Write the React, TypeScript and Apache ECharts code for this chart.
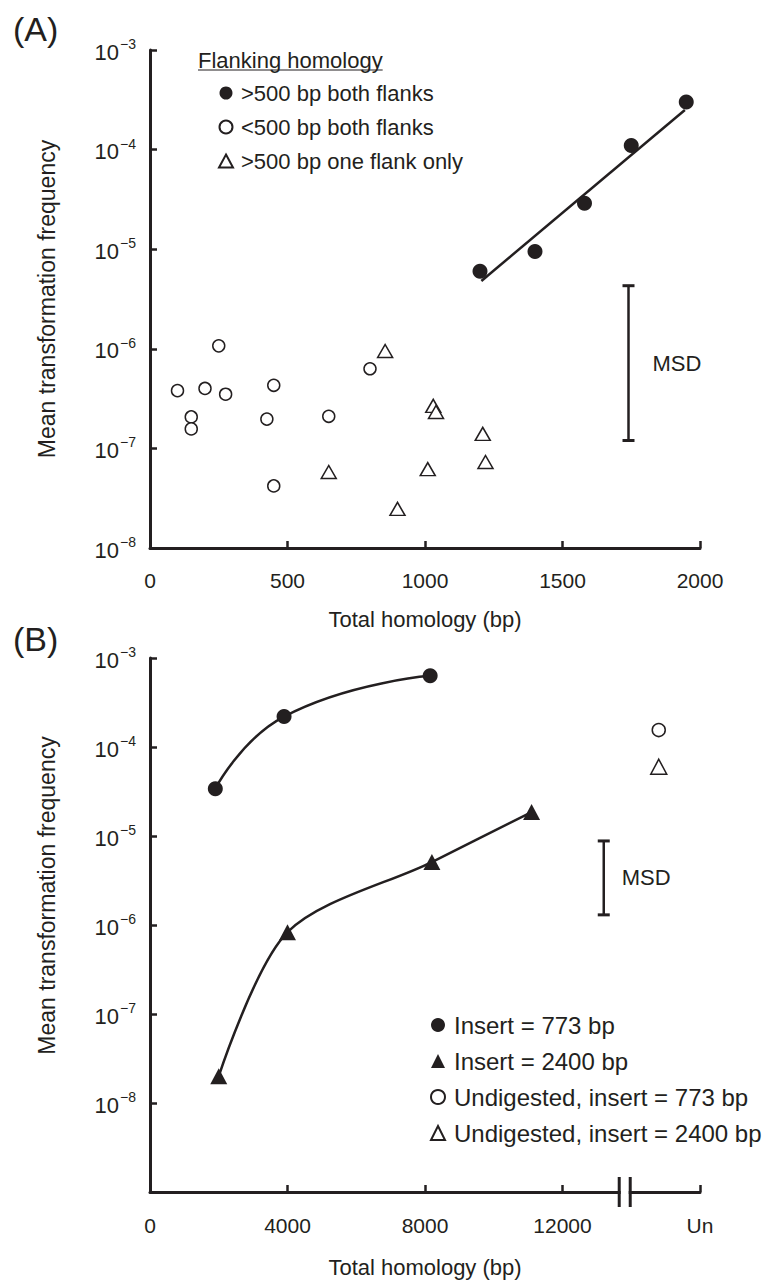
import React, { useEffect, useRef } from "react";
import * as echarts from "echarts";

const FONT = '"Liberation Sans", Arial, Helvetica, sans-serif';
const INK = "#231f20";

// ---------- Panel A data ----------
const A_X_MIN = 0;
const A_X_MAX = 2000;
const A_X_STEP = 500;
const A_Y_MIN = 1e-8;
const A_Y_MAX = 1e-3;

const A_FILLED_NAME = ">500 bp both flanks";
const A_FILLED_X = [1200, 1400, 1580, 1750, 1950];
const A_FILLED_Y = [6.0e-6, 9.5e-6, 2.9e-5, 1.1e-4, 3.0e-4];

const A_OPEN_NAME = "<500 bp both flanks";
const A_OPEN_X = [100, 150, 150, 200, 250, 275, 425, 450, 450, 650, 800];
const A_OPEN_Y = [3.8e-7, 2.07e-7, 1.57e-7, 4.0e-7, 1.07e-6, 3.5e-7, 1.97e-7, 4.3e-7, 4.2e-8, 2.1e-7, 6.3e-7];

const A_TRI_NAME = ">500 bp one flank only";
const A_TRI_X = [650, 855, 900, 1010, 1030, 1040, 1210, 1220];
const A_TRI_Y = [5.8e-8, 9.5e-7, 2.47e-8, 6.2e-8, 2.67e-7, 2.32e-7, 1.4e-7, 7.3e-8];

const A_TREND_X = [1205, 1945];
const A_TREND_Y = [4.8e-6, 2.5e-4];

const A_MSD_X = [1740, 1740];
const A_MSD_Y = [4.3e-6, 1.2e-7];

const A_LEGEND_TITLE = "Flanking homology";

// ---------- Panel B data ----------
const B_X_MIN = 0;
const B_X_MAX = 16000;
const B_X_STEP = 4000;
const B_X_UN_LABEL = "Un";
const B_Y_MIN = 1e-9;
const B_Y_MAX = 1e-3;

const B_773_NAME = "Insert = 773 bp";
const B_773_X = [1900, 3900, 8150];
const B_773_Y = [3.4e-5, 2.2e-4, 6.3e-4];

const B_2400_NAME = "Insert = 2400 bp";
const B_2400_X = [2000, 4000, 8200, 11100];
const B_2400_Y = [2.0e-8, 8.3e-7, 5.1e-6, 1.86e-5];

const B_UN773_NAME = "Undigested, insert = 773 bp";
const B_UN773_X = [14800];
const B_UN773_Y = [1.55e-4];

const B_UN2400_NAME = "Undigested, insert = 2400 bp";
const B_UN2400_X = [14800];
const B_UN2400_Y = [6.0e-5];

const B_MSD_X = [13200, 13200];
const B_MSD_Y = [8.8e-6, 1.3e-6];

const B_BREAK_X = [13650, 13970];

const X_NAME = "Total homology (bp)";
const Y_NAME = "Mean transformation frequency";

const zip = (xs: number[], ys: number[]) => xs.map((x, i) => [x, ys[i]]);

const powLabel = (hideBelow: number) => (v: number) => {
  const e = Math.round(Math.log10(v));
  if (e <= hideBelow) return "";
  return `{b|10}{s|\u2212${-e}}`;
};

const richPow = {
  b: { fontSize: 22, fontFamily: FONT, color: INK, lineHeight: 26, verticalAlign: "bottom" },
  s: { fontSize: 14, fontFamily: FONT, color: INK, lineHeight: 26, verticalAlign: "top", padding: [0, 0, 0, 1] },
};

const axisLine = { show: true, onZero: false, lineStyle: { color: INK, width: 3 } };
const axisTick = { show: true, inside: true, length: 7, lineStyle: { color: INK, width: 2.5 } };

const openItem = { color: "#ffffff", borderColor: INK, borderWidth: 1.5, opacity: 1 };
const solidItem = { color: INK, opacity: 1 };

export default function App() {
  const ref = useRef<HTMLDivElement>(null);

  useEffect(() => {
    if (!ref.current) return;
    const chart = echarts.init(ref.current, null, { renderer: "svg" });

    const option: any = {
      animation: false,
      backgroundColor: "#ffffff",
      textStyle: { fontFamily: FONT, color: INK },
      grid: [
        { left: 150, top: 50, width: 550, height: 498 },
        { left: 150, top: 658, width: 550, height: 534 },
      ],
      xAxis: [
        {
          type: "value",
          gridIndex: 0,
          min: A_X_MIN,
          max: A_X_MAX,
          interval: A_X_STEP,
          axisLine,
          axisTick,
          splitLine: { show: false },
          axisLabel: {
            margin: 22,
            fontSize: 21,
            color: INK,
            fontFamily: FONT,
            formatter: (v: number) => String(v),
          },
          name: X_NAME,
          nameLocation: "middle",
          nameGap: 60,
          nameTextStyle: { fontSize: 22, color: INK, fontFamily: FONT },
        },
        {
          type: "value",
          gridIndex: 1,
          min: B_X_MIN,
          max: B_X_MAX,
          interval: B_X_STEP,
          axisLine,
          axisTick,
          splitLine: { show: false },
          axisLabel: {
            margin: 23,
            fontSize: 21,
            color: INK,
            fontFamily: FONT,
            formatter: (v: number) => (v === B_X_MAX ? B_X_UN_LABEL : String(v)),
          },
          name: X_NAME,
          nameLocation: "middle",
          nameGap: 64,
          nameTextStyle: { fontSize: 22, color: INK, fontFamily: FONT },
        },
      ],
      yAxis: [
        {
          type: "log",
          logBase: 10,
          gridIndex: 0,
          min: A_Y_MIN,
          max: A_Y_MAX,
          axisLine,
          axisTick,
          splitLine: { show: false },
          minorTick: { show: false },
          axisLabel: { margin: 14, formatter: powLabel(-100), rich: richPow },
          name: Y_NAME,
          nameLocation: "middle",
          nameGap: 92,
          nameTextStyle: { fontSize: 23, color: INK, fontFamily: FONT },
        },
        {
          type: "log",
          logBase: 10,
          gridIndex: 1,
          min: B_Y_MIN,
          max: B_Y_MAX,
          axisLine,
          axisTick,
          splitLine: { show: false },
          minorTick: { show: false },
          axisLabel: { margin: 14, formatter: powLabel(-9), rich: richPow },
        },
      ],
      legend: [
        {
          data: [
            { name: A_FILLED_NAME, icon: "circle" },
            { name: A_OPEN_NAME, icon: "circle" },
            { name: A_TRI_NAME, icon: "triangle" },
          ],
          orient: "vertical",
          left: 218,
          top: 81,
          padding: 0,
          itemWidth: 14,
          itemHeight: 13,
          itemGap: 10,
          selectedMode: false,
          textStyle: { fontSize: 22, lineHeight: 24, color: INK, fontFamily: FONT, padding: [0, 0, 0, 3] },
        },
        {
          data: [
            { name: B_773_NAME, icon: "circle" },
            { name: B_2400_NAME, icon: "triangle" },
            { name: B_UN773_NAME, icon: "circle" },
            { name: B_UN2400_NAME, icon: "triangle" },
          ],
          orient: "vertical",
          left: 430,
          top: 1012,
          padding: 0,
          itemWidth: 14,
          itemHeight: 14,
          itemGap: 10,
          selectedMode: false,
          textStyle: { fontSize: 24, lineHeight: 26, color: INK, fontFamily: FONT, padding: [0, 0, 0, 4] },
        },
      ],
      series: [
        {
          name: "trendA",
          type: "line",
          xAxisIndex: 0,
          yAxisIndex: 0,
          data: zip(A_TREND_X, A_TREND_Y),
          showSymbol: false,
          symbol: "none",
          lineStyle: { color: INK, width: 2.5 },
          silent: true,
          z: 2,
        },
        {
          name: "msdA",
          type: "line",
          xAxisIndex: 0,
          yAxisIndex: 0,
          data: zip(A_MSD_X, A_MSD_Y),
          symbol: "rect",
          symbolSize: [12, 3],
          itemStyle: solidItem,
          lineStyle: { color: INK, width: 2.5 },
          silent: true,
        },
        {
          name: A_FILLED_NAME,
          type: "scatter",
          xAxisIndex: 0,
          yAxisIndex: 0,
          data: zip(A_FILLED_X, A_FILLED_Y),
          symbol: "circle",
          symbolSize: 15,
          itemStyle: solidItem,
          z: 5,
        },
        {
          name: A_OPEN_NAME,
          type: "scatter",
          xAxisIndex: 0,
          yAxisIndex: 0,
          data: zip(A_OPEN_X, A_OPEN_Y),
          symbol: "circle",
          symbolSize: 12,
          itemStyle: openItem,
          z: 5,
        },
        {
          name: A_TRI_NAME,
          type: "scatter",
          xAxisIndex: 0,
          yAxisIndex: 0,
          data: zip(A_TRI_X, A_TRI_Y),
          symbol: "triangle",
          symbolSize: [15, 13],
          itemStyle: openItem,
          z: 5,
        },
        {
          name: B_773_NAME,
          type: "line",
          xAxisIndex: 1,
          yAxisIndex: 1,
          data: zip(B_773_X, B_773_Y),
          smooth: 0.5,
          symbol: "circle",
          symbolSize: 15,
          showSymbol: true,
          itemStyle: solidItem,
          lineStyle: { color: INK, width: 2.5 },
          z: 5,
        },
        {
          name: B_2400_NAME,
          type: "line",
          xAxisIndex: 1,
          yAxisIndex: 1,
          data: zip(B_2400_X, B_2400_Y),
          smooth: 0.3,
          symbol: "triangle",
          symbolSize: [17, 16],
          showSymbol: true,
          itemStyle: solidItem,
          lineStyle: { color: INK, width: 2.5 },
          z: 5,
        },
        {
          name: B_UN773_NAME,
          type: "scatter",
          xAxisIndex: 1,
          yAxisIndex: 1,
          data: zip(B_UN773_X, B_UN773_Y),
          symbol: "circle",
          symbolSize: 13,
          itemStyle: openItem,
          z: 5,
        },
        {
          name: B_UN2400_NAME,
          type: "scatter",
          xAxisIndex: 1,
          yAxisIndex: 1,
          data: zip(B_UN2400_X, B_UN2400_Y),
          symbol: "triangle",
          symbolSize: [16, 15],
          itemStyle: openItem,
          z: 5,
        },
        {
          name: "msdB",
          type: "line",
          xAxisIndex: 1,
          yAxisIndex: 1,
          data: zip(B_MSD_X, B_MSD_Y),
          symbol: "rect",
          symbolSize: [12, 3],
          itemStyle: solidItem,
          lineStyle: { color: INK, width: 2.5 },
          silent: true,
        },
      ],
    };

    chart.setOption(option);

    // Annotations placed from data coordinates
    const msdA = chart.convertToPixel({ gridIndex: 0 } as any, [A_MSD_X[0], Math.sqrt(A_MSD_Y[0] * A_MSD_Y[1])]) as number[];
    const msdB = chart.convertToPixel({ gridIndex: 1 } as any, [B_MSD_X[0], Math.sqrt(B_MSD_Y[0] * B_MSD_Y[1])]) as number[];
    const br1 = chart.convertToPixel({ gridIndex: 1 } as any, [B_BREAK_X[0], B_Y_MIN]) as number[];
    const br2 = chart.convertToPixel({ gridIndex: 1 } as any, [B_BREAK_X[1], B_Y_MIN]) as number[];
    const bTop = chart.convertToPixel({ gridIndex: 1 } as any, [0, B_Y_MAX]) as number[];
    const b8 = chart.convertToPixel({ gridIndex: 1 } as any, [0, 1e-8]) as number[];

    let titleW = 185;
    try {
      const ctx = document.createElement("canvas").getContext("2d");
      if (ctx) {
        ctx.font = `22px ${FONT}`;
        titleW = ctx.measureText(A_LEGEND_TITLE).width;
      }
    } catch (e) {}

    chart.setOption({
      graphic: [
        { type: "text", left: 13, top: 12, style: { text: "(A)", font: `34px ${FONT}`, fill: INK } },
        { type: "text", left: 13, top: 622, style: { text: "(B)", font: `34px ${FONT}`, fill: INK } },
        {
          type: "text",
          x: 198,
          y: 60,
          style: { text: A_LEGEND_TITLE, font: `22px ${FONT}`, fill: INK, verticalAlign: "middle", align: "left" },
        },
        {
          type: "line",
          shape: { x1: 198, y1: 70, x2: 198 + titleW, y2: 70 },
          style: { stroke: INK, lineWidth: 1.2 },
        },
        {
          type: "text",
          x: msdA[0] + 24,
          y: msdA[1],
          style: { text: "MSD", font: `22px ${FONT}`, fill: INK, verticalAlign: "middle", align: "left" },
        },
        {
          type: "text",
          x: msdB[0] + 18,
          y: msdB[1],
          style: { text: "MSD", font: `22px ${FONT}`, fill: INK, verticalAlign: "middle", align: "left" },
        },
        {
          type: "text",
          x: 47,
          y: (bTop[1] + b8[1]) / 2 + 15,
          rotation: Math.PI / 2,
          style: { text: Y_NAME, font: `23px ${FONT}`, fill: INK, verticalAlign: "middle", align: "center" },
        },
        {
          type: "rect",
          shape: { x: br1[0] + 1.5, y: br1[1] - 3, width: br2[0] - br1[0] - 3, height: 6 },
          style: { fill: "#ffffff" },
          z: 100,
        },
        {
          type: "line",
          shape: { x1: br1[0], y1: br1[1] - 15, x2: br1[0], y2: br1[1] + 15 },
          style: { stroke: INK, lineWidth: 3 },
          z: 101,
        },
        {
          type: "line",
          shape: { x1: br2[0], y1: br2[1] - 15, x2: br2[0], y2: br2[1] + 15 },
          style: { stroke: INK, lineWidth: 3 },
          z: 101,
        },
      ],
    });

    return () => chart.dispose();
  }, []);

  return (
    <div
      ref={ref}
      style={{ position: "absolute", left: 0, top: 0, width: 769, height: 1284, background: "#fff" }}
    />
  );
}
